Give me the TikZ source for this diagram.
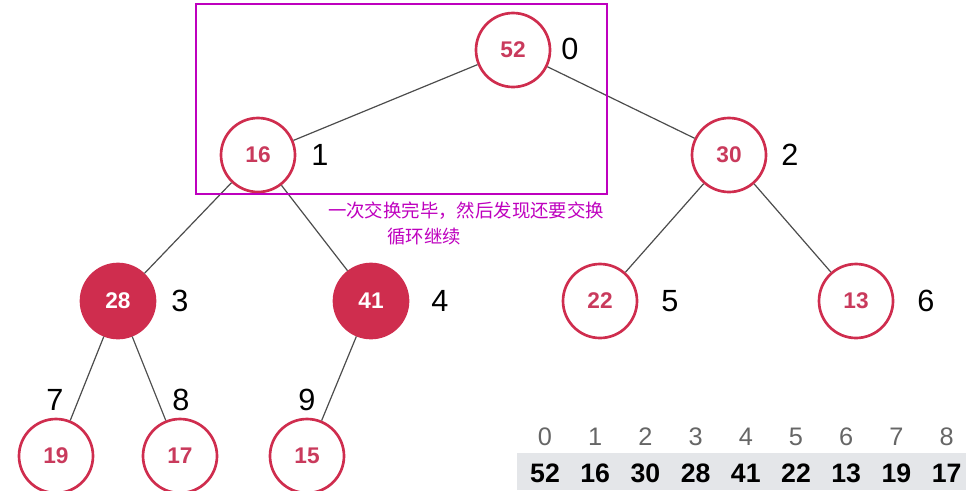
\documentclass[tikz,border=0pt]{standalone}
\usepackage{fontspec}
\setmainfont{Liberation Sans}
\newfontfamily\cjk{Noto Sans CJK SC}
\usepackage{xcolor}
\usepackage{tikz}
\definecolor{heapred}{HTML}{CF2D4E}
\definecolor{heaptext}{HTML}{C93A5C}
\definecolor{notemag}{HTML}{BE00BE}
\definecolor{bandgray}{HTML}{E4E6E9}

\begin{document}
\begin{tikzpicture}[x=0.75pt,y=-0.75pt,
  hnode/.style={circle,draw=heapred,line width=2pt,minimum size=55.5pt,inner sep=0pt,
    text=heaptext,font=\fontsize{17}{17}\selectfont\bfseries},
  hfull/.style={hnode,fill=heapred,text=white},
  idx/.style={font=\fontsize{23}{23}\selectfont},
  edge/.style={gray!60!black,line width=0.9pt},
  note/.style={text=notemag,font=\cjk\fontsize{13.8}{14}\selectfont}]
  \useasboundingbox (0,0) rectangle (966,490);
  \node[hnode] (n0) at (513,50) {52};
  \node[hnode] (n1) at (258,155) {16};
  \node[hnode] (n2) at (729,155) {30};
  \node[hfull] (n3) at (118,301) {28};
  \node[hfull] (n4) at (371,301) {41};
  \node[hnode] (n5) at (600,301) {22};
  \node[hnode] (n6) at (856,301) {13};
  \node[hnode] (n7) at (56,456) {19};
  \node[hnode] (n8) at (180,456) {17};
  \node[hnode] (n9) at (307,456) {15};
  \draw[edge] (n0)--(n1) (n0)--(n2) (n1)--(n3) (n1)--(n4) (n2)--(n5) (n2)--(n6);
  \draw[edge] (n3)--(n7) (n3)--(n8) (n4)--(n9);
  \node[idx] (i0) at (570,49) {0};
  \node[idx] (i1) at (320,155) {1};
  \node[idx] (i2) at (790,155) {2};
  \node[idx] (i3) at (180,301) {3};
  \node[idx] (i4) at (440,301) {4};
  \node[idx] (i5) at (670,301) {5};
  \node[idx] (i6) at (926,301) {6};
  \node[idx] (i7) at (55,400) {7};
  \node[idx] (i8) at (181,400) {8};
  \node[idx] (i9) at (307,400) {9};
  \draw[notemag,line width=2.2pt] (196,4) rectangle (607,194);
  \node[note] (note1) at (466,211) {一次交换完毕，然后发现还要交换};
  \node[note] (note2) at (424,237) {循环继续};
  \fill[bandgray] (517,453) rectangle (966,490);
  \foreach \v [count=\i from 0] in {52,16,30,28,41,22,13,19,17} {
    \node[text=black!60,font=\fontsize{19}{19}\selectfont] (t\i) at (545+50.2*\i,437) {\i};
    \node[font=\fontsize{20}{20}\selectfont\bfseries] (v\i) at (545+50.2*\i,473) {\v};
  }
\end{tikzpicture}
\end{document}
